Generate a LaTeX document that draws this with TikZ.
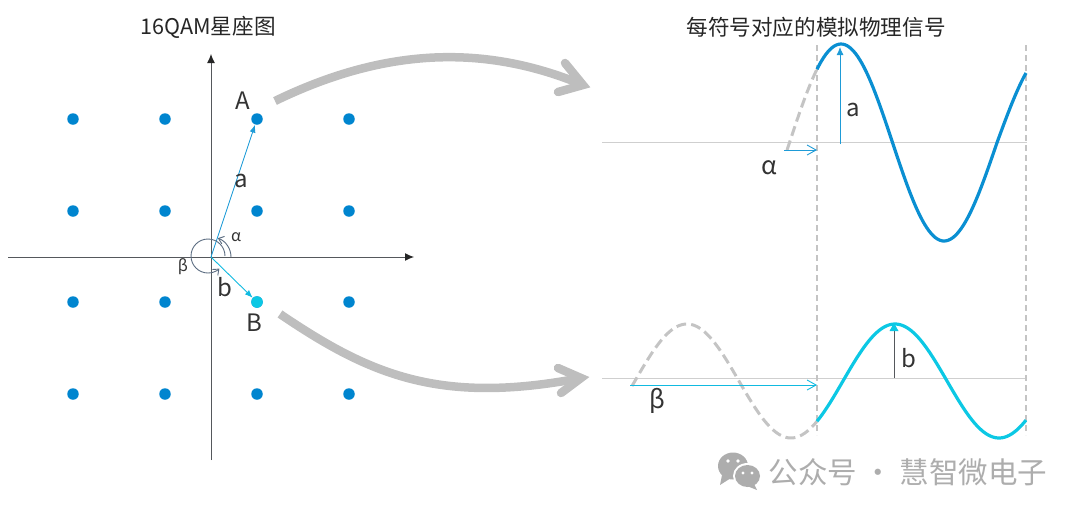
\documentclass[tikz,border=0pt]{standalone}
\usepackage{fontspec}
\setmainfont{Noto Sans CJK SC}
\usetikzlibrary{arrows.meta,calc}
\definecolor{dotblue}{HTML}{0085CF}
\definecolor{waveblue}{HTML}{0A8FD2}
\definecolor{cyanb}{HTML}{0CC8E4}
\definecolor{vecblue}{HTML}{1E9BD7}
\definecolor{axisgray}{HTML}{55585C}
\definecolor{biggray}{HTML}{BEBEBE}
\definecolor{dashgray}{HTML}{C4C4C4}
\definecolor{ruleg}{HTML}{CFCFCF}
\definecolor{angleg}{HTML}{5A6B80}
\definecolor{wmg}{HTML}{ADADAD}
\tikzset{
 x=1pt,y=-1pt,
 dot/.style={circle,fill=dotblue,inner sep=0,minimum size=11.5pt},
 axisline/.style={draw=axisgray,line width=1pt,-{Latex[length=9pt,width=8pt,black!85]}},
 vec/.style={draw=vecblue,line width=0.9pt,-{Latex[length=8pt,width=6pt]}},
 openarr/.style={draw=vecblue,line width=0.9pt,-{Straight Barb[length=9pt,width=10pt]}},
 bigline/.style={draw=biggray,line width=8.5pt},
 bighead/.style={draw=biggray,line width=8.5pt,line cap=round,miter limit=10},
 guide/.style={draw=dashgray,line width=1.2pt,dash pattern=on 6pt off 4pt},
 wavedash/.style={draw=dashgray,line width=3pt,dash pattern=on 10pt off 5pt},
 rule/.style={draw=ruleg,line width=0.9pt},
 anglearc/.style={draw=angleg,line width=0.9pt,-{Straight Barb[length=5pt,width=8pt]}},
 lab/.style={inner sep=0,font=\fontsize{24}{26}\selectfont,text=black!80},
 greek/.style={inner sep=0,font=\fontsize{25}{27}\selectfont,text=black!80},
 small/.style={inner sep=0,font=\fontsize{16}{18}\selectfont,text=black!80},
 title/.style={inner sep=0,font=\fontsize{21.6}{24}\selectfont,text=black!85},
}
\begin{document}
\begin{tikzpicture}
\useasboundingbox (0,0) rectangle (1080,515);
% titles
\node[title] (t1) at (208,27) {16QAM星座图};
\node[title] (t2) at (816,27) {每符号对应的模拟物理信号};
% constellation
\foreach \i/\x in {1/73,2/165,3/257,4/349}{
 \foreach \j/\y in {1/119,2/211,3/302,4/394}{
  \node[dot] (d\i\j) at (\x,\y) {};
 }
}
\node[dot,fill=cyanb] (d33b) at (257,302) {};
\coordinate (O) at (211,257);
\coordinate (xl) at (8,257); \coordinate (xr) at (414,257);
\coordinate (yb) at (211,460); \coordinate (yt) at (211,54);
\draw[axisline] (xl) -- (xr);
\draw[axisline] (yb) -- (yt);
\draw[vec] (O) -- (d31);
\draw[vec,draw=cyanb!70!vecblue] (O) -- (d33b);
% angle marks
\draw[anglearc] (231,257) arc[start angle=0,end angle=-70,radius=20];
\draw[anglearc] (225,256) arc[start angle=0,end angle=-312,radius=17];
\node[small] (al) at (236,237) {α};
\node[small] (be) at (183,267) {β};
\node[lab] (A) at (243,101) {A};
\node[lab] (B) at (254,323) {B};
\node[lab] (la) at (241,181) {a};
\node[lab] (lb) at (225,287) {b};
% big arrows
\coordinate (a1s) at (275,101); \coordinate (a1e) at (583,85);
\coordinate (a1u) at (565,63); \coordinate (a1d) at (558,92);
\coordinate (a2s) at (280,314); \coordinate (a2e) at (581,378);
\coordinate (a2u) at (558,368); \coordinate (a2d) at (561,393);
\draw[bigline] (a1s) .. controls (380,50) and (480,42) .. (a1e);
\draw[bighead] (a1u) -- (a1e) -- (a1d);
\draw[bigline] (a2s) .. controls (370,375) and (440,405) .. (a2e);
\draw[bighead] (a2u) -- (a2e) -- (a2d);
% right side guides
\coordinate (r1l) at (602,142); \coordinate (r1r) at (1027,142);
\coordinate (r2l) at (602,378); \coordinate (r2r) at (1027,378);
\draw[rule] (r1l) -- (r1r);
\draw[rule] (r2l) -- (r2r);
\coordinate (g1t) at (817,45); \coordinate (g1b) at (817,435);
\coordinate (g2t) at (1026,45); \coordinate (g2b) at (1026,435);
\draw[guide] (g1t) -- (g1b);
\draw[guide] (g2t) -- (g2b);
% waves
\draw[wavedash] plot[domain=787:817,samples=30,smooth] (\x,{142.5-98.5*cos(deg((\x-841)*0.0305))});
\draw[waveblue,line width=3.2pt] plot[domain=817:944,samples=60,smooth] (\x,{142.5-98.5*cos(deg((\x-841)*0.0305))})
  -- plot[domain=944:997,samples=25,smooth] (\x,{142.5+98.5*cos(deg((\x-944)*0.0296))})
  -- plot[domain=997:1026,samples=15,smooth] (\x,{142.5+92*cos(deg((\x-944)*0.0296))});
\draw[wavedash] plot[domain=632:817,samples=90,smooth] (\x,{381-57*cos(deg((\x-895)*0.0302))});
\draw[cyanb,line width=3.2pt] plot[domain=817:1026,samples=90,smooth] (\x,{381-57*cos(deg((\x-895)*0.0302))});
% amplitude arrows
\coordinate (am0) at (840,144); \coordinate (am1) at (840,47);
\draw[vec,-{Latex[length=8pt,width=7pt]}] (am0) -- (am1);
\coordinate (bm0) at (894,378); \coordinate (bm1) at (894,326);
\draw[draw=axisgray,line width=0.8pt] (bm0) -- (bm1);
\draw[draw=none,fill=cyanb] (894,323) -- (889.5,331) -- (898.5,331) -- cycle;
\node[lab] (la2) at (853,110) {a};
\node[lab] (lb2) at (909,358) {b};
% phase arrows
\coordinate (p1l) at (784,150); \coordinate (p1r) at (817,150);
\draw[openarr] (p1l) -- (p1r);
\coordinate (p2l) at (630,385); \coordinate (p2r) at (817,385);
\draw[openarr,draw=cyanb!70!vecblue] (p2l) -- (p2r);
\node[greek] (al2) at (769,168) {α};
\node[greek] (be2) at (657,401) {β};
% watermark
\fill[wmg] (733,466) ellipse[x radius=15,y radius=13.5];
\fill[wmg] (722,475) -- (720,485) -- (731,478) -- cycle;
\fill[white] (747.5,476) ellipse[x radius=14.5,y radius=13];
\fill[wmg] (747.5,476) ellipse[x radius=12.5,y radius=11];
\fill[wmg] (754,484) -- (757,490) -- (747,486) -- cycle;
\fill[white] (728,461) circle (1.8) (738,461) circle (1.8) (743,473) circle (1.6) (752,473) circle (1.6);
\node[inner sep=0,font=\fontsize{29.5}{32}\selectfont,text=wmg] (wm) at (908,472) {公众号 · 慧智微电子};
\end{tikzpicture}
\end{document}
